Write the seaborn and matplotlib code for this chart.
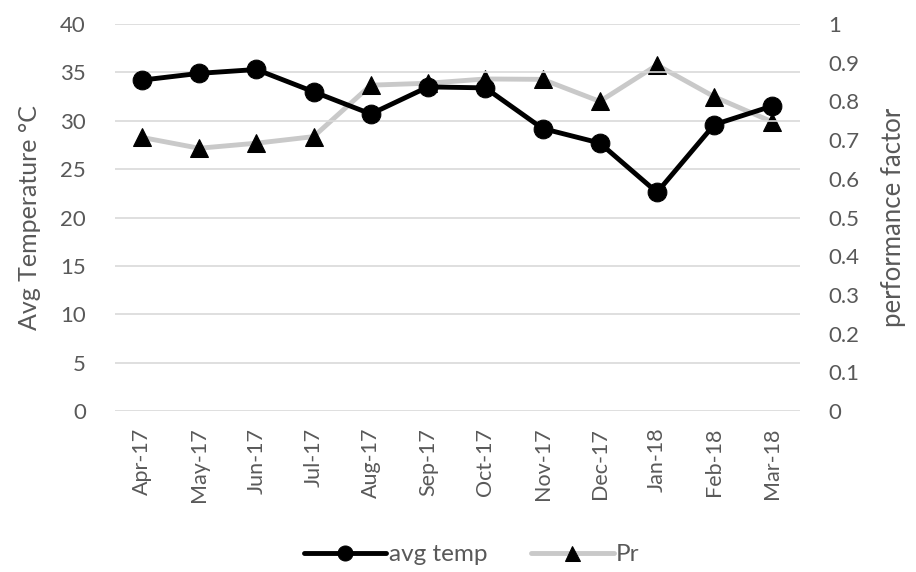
import pandas as pd
import seaborn as sns
import matplotlib.pyplot as plt
import numpy as np

months = ['Apr-17', 'May-17', 'Jun-17', 'Jul-17', 'Aug-17', 'Sep-17',
          'Oct-17', 'Nov-17', 'Dec-17', 'Jan-18', 'Feb-18', 'Mar-18']
avg_temp = [34.2, 34.9, 35.3, 33.0, 30.7, 33.5, 33.4, 29.2, 27.7, 22.6, 29.6, 31.5]
pr = [0.707, 0.679, 0.692, 0.709, 0.842, 0.847, 0.858, 0.857, 0.800, 0.894, 0.812, 0.748]

df = pd.DataFrame({'month': months, 'avg temp': avg_temp, 'Pr': pr})

sns.set_style('white')
plt.rcParams['font.family'] = ['Lato', 'DejaVu Sans']
grey = '#595959'
fs = 16

fig = plt.figure(figsize=(9.16, 5.72), dpi=100)
ax = fig.add_axes([0.1255, 0.2815, 0.748, 0.6765])
ax2 = ax.twinx()

sns.lineplot(data=df, x='month', y='avg temp', ax=ax, sort=False, color='black',
             linewidth=3.5, marker='o', markersize=13.5, markeredgecolor='black',
             label='avg temp', legend=False, zorder=3)
sns.lineplot(data=df, x='month', y='Pr', ax=ax2, sort=False, color='#c9c9c9',
             linewidth=3.5, marker='^', markersize=13.5, markerfacecolor='black',
             markeredgecolor='black', label='Pr', legend=False, zorder=2)

ax.set_ylim(0, 40)
ax.set_yticks(np.arange(0, 41, 5))
ax2.set_ylim(0, 1)
ax2.set_yticks(np.arange(0, 1.01, 0.1))
ax2.set_yticklabels(['0', '0.1', '0.2', '0.3', '0.4', '0.5', '0.6', '0.7', '0.8', '0.9', '1'])
ax.set_xlim(-0.47, 11.5)

ax.grid(axis='y', color='#d9d9d9', linewidth=1.2)
ax.set_axisbelow(True)
ax2.grid(False)
for a in (ax, ax2):
    for s in a.spines.values():
        s.set_visible(False)
    a.tick_params(length=0, labelsize=fs, colors=grey)

ax.tick_params(axis='y', pad=21)
ax2.tick_params(axis='y', pad=20)
ax.tick_params(axis='x', rotation=90, pad=12, labelsize=15.5)
ax.set_xlabel('')
ax.set_ylabel('Avg Temperature °C', fontsize=18, color=grey, labelpad=14)
ax2.set_ylabel('performance factor', fontsize=18.5, color=grey, labelpad=16)

# put black line above the grey one
ax.set_zorder(ax2.get_zorder() + 1)
ax.patch.set_visible(False)

h1, l1 = ax.get_legend_handles_labels()
h2, l2 = ax2.get_legend_handles_labels()
fig.legend(h1 + h2, l1 + l2, loc='center', bbox_to_anchor=(0.515, 0.03), ncol=2,
           frameon=False, fontsize=17.5, labelcolor=grey, handlelength=3.4,
           handletextpad=0.1, columnspacing=1.8, markerscale=0.8)

plt.savefig('out.png', dpi=100)
